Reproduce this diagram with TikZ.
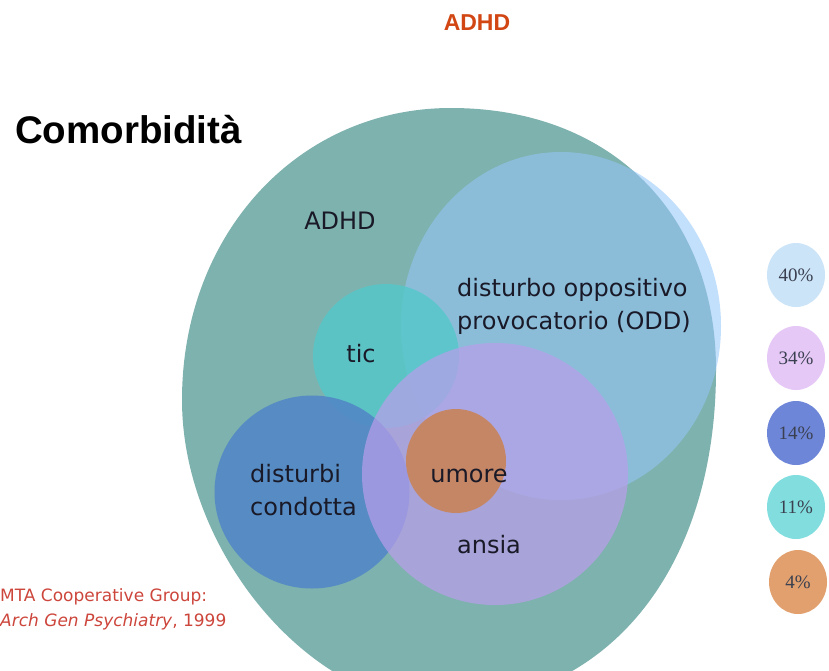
\documentclass[tikz,border=0pt]{standalone}
\usepackage{fontspec}
\setmainfont{DejaVu Sans}
\newfontfamily\headfont{Liberation Sans}
\newfontfamily\numfont{Liberation Serif}
\usepackage{tikz}
\usetikzlibrary{shapes}
\definecolor{adhdteal}{RGB}{126,178,174}
\definecolor{oddblue}{RGB}{149,199,251}
\definecolor{ticcyan}{RGB}{84,200,202}
\definecolor{condblue}{RGB}{82,136,198}
\definecolor{ansialilac}{RGB}{186,158,235}
\definecolor{umoreorange}{RGB}{200,132,92}
\definecolor{labeltext}{RGB}{25,25,40}
\definecolor{titlered}{RGB}{210,70,20}
\definecolor{citered}{RGB}{205,70,60}
\definecolor{keytext}{RGB}{58,64,80}
\definecolor{keyodd}{RGB}{204,228,248}
\definecolor{keyansia}{RGB}{230,200,246}
\definecolor{keycond}{RGB}{110,134,216}
\definecolor{keytic}{RGB}{130,222,222}
\definecolor{keyumore}{RGB}{225,160,110}

\begin{document}
\begin{tikzpicture}[x=1pt, y=-1pt, blob/.style={ellipse, inner sep=0pt}]
\tikzset{lbl/.style = {font=\fontsize{24}{33}\selectfont, text=labeltext, inner sep=0pt}}
\tikzset{key/.style = {ellipse, inner sep=0pt, minimum width=58pt, minimum height=64pt, font=\numfont\fontsize{19}{19}\selectfont, text=keytext}}
\tikzset{cite/.style = {font=\fontsize{17}{17}\selectfont, text=citered, inner sep=0pt, anchor=base west}}
\useasboundingbox (0,0) rectangle (829,670);
\fill[white] (0,0) rectangle (829,670);
\node[font=\headfont\bfseries\fontsize{23}{23}\selectfont, text=titlered, inner sep=0pt, anchor=base] (title) at (477,30) {ADHD};
\node[font=\headfont\bfseries\fontsize{38.5}{38.5}\selectfont, inner sep=0pt, anchor=base west] (comorb) at (15,143) {Comorbidità};
\fill[adhdteal] (451,108) .. controls (610,108) and (716,213) .. (716,370)
  .. controls (716,571) and (606,705) .. (440,705)
  .. controls (311,705) and (182,552) .. (182,400)
  .. controls (182,234) and (298,108) .. (451,108) -- cycle;
\node[blob, fill=oddblue, fill opacity=0.57, minimum width=320pt, minimum height=348pt] (odd) at (561,326) {};
\node[blob, fill=ticcyan, fill opacity=0.8, minimum width=146pt, minimum height=144pt] (tic) at (386,356) {};
\node[blob, fill=condblue, fill opacity=0.9, minimum width=195pt, minimum height=193pt] (cond) at (312,492) {};
\node[blob, fill=ansialilac, fill opacity=0.7, minimum width=266pt, minimum height=262pt] (ansia) at (495,474) {};
\node[blob, fill=umoreorange, fill opacity=0.92, minimum width=100pt, minimum height=104pt] (umore) at (456,461) {};
\node[lbl, anchor=base] (adhdlbl) at (340,229) {ADHD};
\node[lbl, anchor=west, align=left] (oddlbl) at (457,306) {disturbo oppositivo\\provocatorio (ODD)};
\node[lbl, anchor=base] (ticlbl) at (361,362) {tic};
\node[lbl, anchor=west, align=left] (condlbl) at (250,490) {disturbi\\condotta};
\node[lbl, anchor=base] (umorelbl) at (469,482) {umore};
\node[lbl, anchor=base] (ansialbl) at (489,553) {ansia};
\node[key, fill=keyodd] (key40) at (796,275) {40\%};
\node[key, fill=keyansia] (key34) at (796,358) {34\%};
\node[key, fill=keycond] (key14) at (796,433) {14\%};
\node[key, fill=keytic] (key11) at (796,507) {11\%};
\node[key, fill=keyumore] (key4) at (798,582) {4\%};
\node[cite] (cite1) at (0,601) {MTA Cooperative Group:};
\node[cite] (cite2) at (0,626) {\textit{Arch Gen Psychiatry}, 1999};
\end{tikzpicture}
\end{document}
